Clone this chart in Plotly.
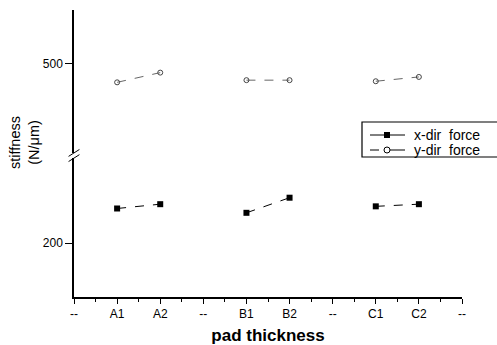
import plotly.graph_objects as go

categories = ["--", "A1", "A2", "--", "B1", "B2", "--", "C1", "C2", "--"]
x_dir_force = [None, 232, 236, None, 228, 242, None, 234, 236, None]
y_dir_force = [None, 483, 492, None, 485, 485, None, 484, 488, None]
y_ticks_lower = [200]
y_ticks_upper = [500]
series_names = ["x-dir\u00a0 force", "y-dir\u00a0 force"]

xpos = list(range(len(categories)))
FONT = "Liberation Sans, Arial, sans-serif"

fig = go.Figure()
fig.add_trace(go.Scatter(
    x=xpos, y=x_dir_force, name=series_names[0], mode="lines+markers",
    line=dict(color="black", width=1, dash="dash"),
    marker=dict(symbol="square", size=6, color="black"),
    yaxis="y", connectgaps=False, showlegend=False))
fig.add_trace(go.Scatter(
    x=xpos, y=y_dir_force, name=series_names[1], mode="lines+markers",
    line=dict(color="#666666", width=1, dash="dash"),
    marker=dict(symbol="circle-open", size=5, color="#444444", line=dict(width=1)),
    yaxis="y2", connectgaps=False, showlegend=False))

axis_common = dict(showline=True, linecolor="black", linewidth=1.5, ticks="outside",
                   ticklen=7, tickcolor="black", showgrid=False, zeroline=False, automargin=False,
                   tickfont=dict(family=FONT, size=12, color="black"))

fig.update_layout(
    width=497, height=345,
    margin=dict(l=74, r=35, t=10, b=48),
    paper_bgcolor="white", plot_bgcolor="white",
    xaxis=dict(range=[0, 9], tickvals=xpos, ticktext=categories,
               minor=dict(tickvals=[i + 0.5 for i in range(9)], ticklen=3, ticks="outside", tickcolor="black"),
               title=dict(text="<b>pad thickness</b>", font=dict(family=FONT, size=17, color="black"), standoff=9),
               anchor="y", **{**axis_common, "ticklen": 5}),
    yaxis=dict(domain=[0, 0.484], range=[150, 278.7], tickvals=y_ticks_lower, **axis_common),
    yaxis2=dict(domain=[0.502, 1], range=[417.6, 550], tickvals=y_ticks_upper, anchor="x", **axis_common),
    showlegend=False,
)

fig.add_annotation(text="stiffness<br>(N/\u03bcm)", textangle=-90, x=-0.129, y=0.54,
                   xref="paper", yref="paper", xanchor="center", yanchor="middle", showarrow=False,
                   font=dict(family=FONT, size=14.5, color="black"))

# axis break marks
for yb in (0.484, 0.502):
    fig.add_shape(type="line", xref="paper", yref="paper",
                  x0=-0.014, x1=0.014, y0=yb - 0.012, y1=yb + 0.012,
                  line=dict(color="black", width=1))

# compact legend box (pixel -> paper helpers)
L, R, T, B = 74, 462, 10, 297
px = lambda v: (v - L) / (R - L)
py = lambda v: (B - v) / (B - T)

fig.add_shape(type="rect", xref="paper", yref="paper", x0=px(362), x1=px(505), y0=py(157), y1=py(122),
              line=dict(color="black", width=1.2), fillcolor="white", layer="above")
rows = [135, 150]
# x-dir swatch: solid line with filled square
fig.add_shape(type="line", xref="paper", yref="paper", x0=px(370), x1=px(405), y0=py(rows[0]), y1=py(rows[0]),
              line=dict(color="black", width=1))
fig.add_shape(type="rect", xref="paper", yref="paper", x0=px(384), x1=px(390), y0=py(rows[0] + 3), y1=py(rows[0] - 3),
              line=dict(color="black", width=0), fillcolor="black")
# y-dir swatch: dashed then solid line with open circle
fig.add_shape(type="line", xref="paper", yref="paper", x0=px(370), x1=px(384), y0=py(rows[1]), y1=py(rows[1]),
              line=dict(color="black", width=1, dash="dash"))
fig.add_shape(type="line", xref="paper", yref="paper", x0=px(390), x1=px(405), y0=py(rows[1]), y1=py(rows[1]),
              line=dict(color="black", width=1))
fig.add_shape(type="circle", xref="paper", yref="paper", x0=px(384), x1=px(390), y0=py(rows[1] + 3), y1=py(rows[1] - 3),
              line=dict(color="black", width=1), fillcolor="white")
for name, r in zip(series_names, rows):
    fig.add_annotation(text=name, x=px(412), y=py(r), xref="paper", yref="paper",
                       xanchor="left", yanchor="middle", showarrow=False,
                       font=dict(family=FONT, size=14, color="black"))

fig.write_html("out.html", post_script="document.body.style.margin='0px';",
               config={"displayModeBar": False})
